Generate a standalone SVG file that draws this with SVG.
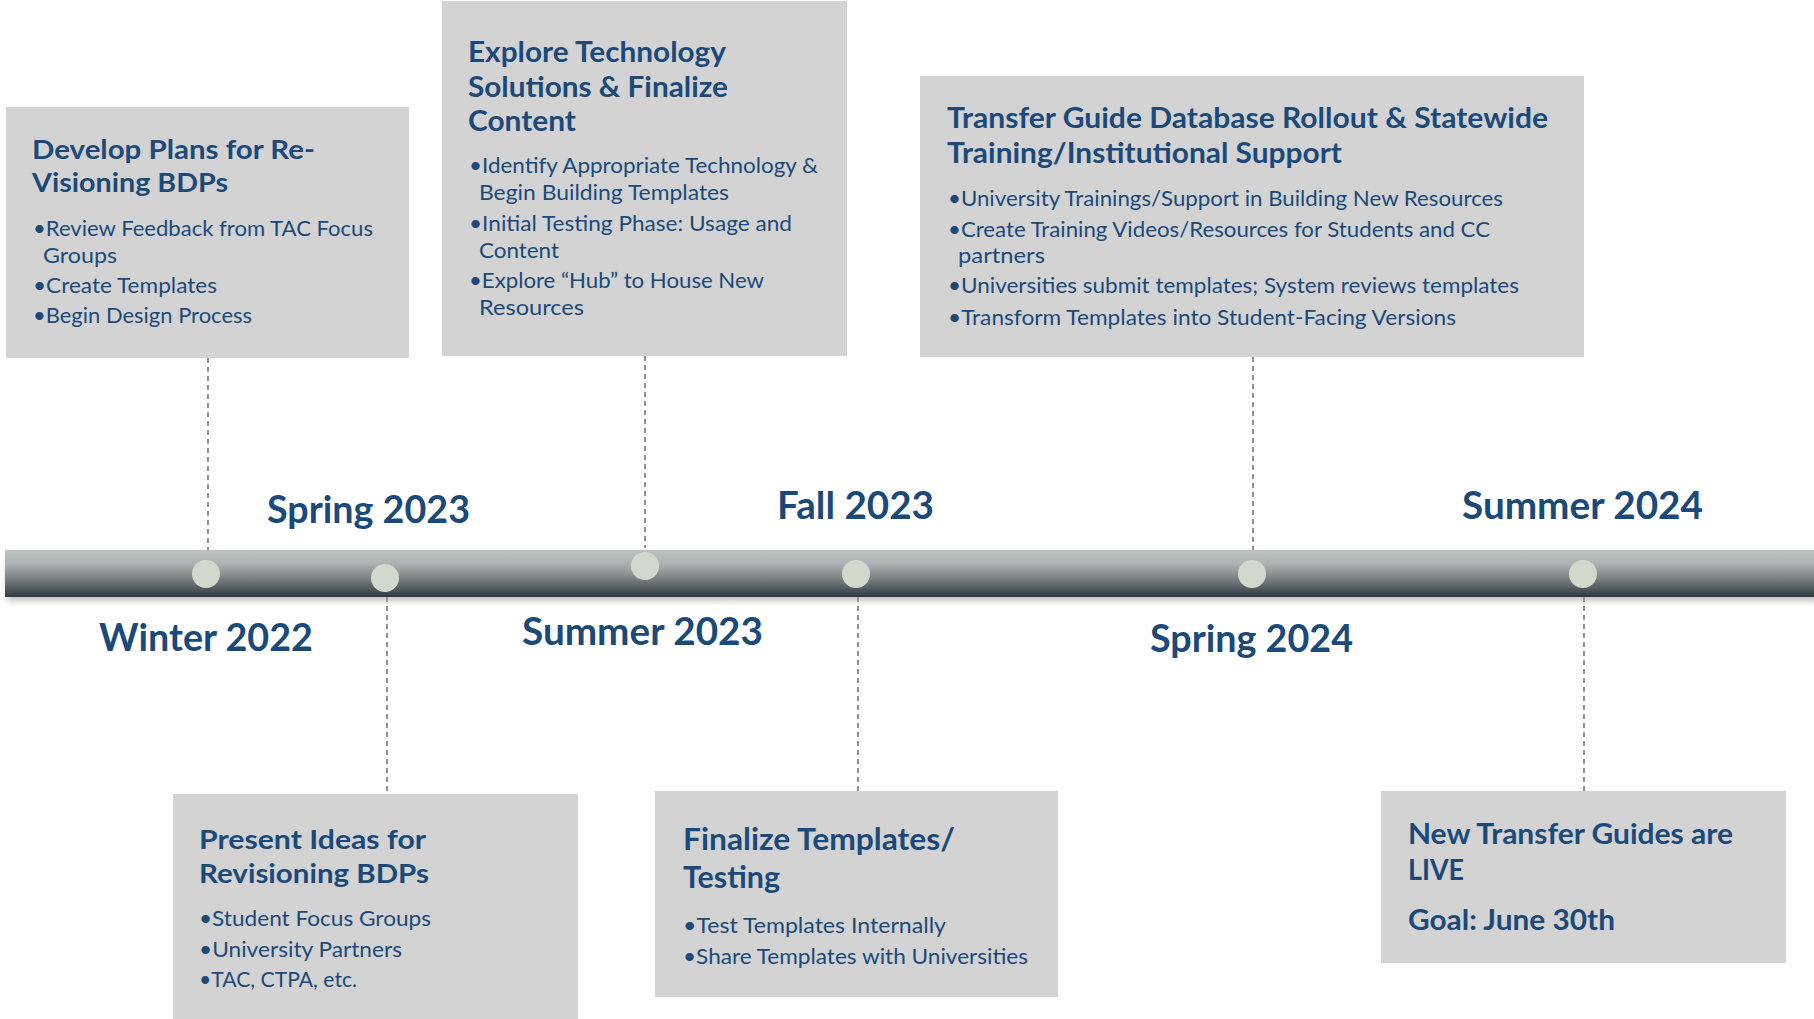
<svg xmlns="http://www.w3.org/2000/svg" width="1814" height="1019" viewBox="0 0 1814 1019">
<defs>
<linearGradient id="barGrad" x1="0" y1="0" x2="0" y2="1">
<stop offset="0" stop-color="#bcc2c1"/>
<stop offset="0.3" stop-color="#adb3b2"/>
<stop offset="0.65" stop-color="#737a7b"/>
<stop offset="1" stop-color="#2e3a41"/>
</linearGradient>
<filter id="shadow" x="-5%" y="-50%" width="110%" height="200%">
<feGaussianBlur stdDeviation="3"/>
</filter>
</defs>
<style>
.box{fill:#d3d3d3;}
.title{font-family:Lato,"Liberation Sans",sans-serif;font-weight:bold;fill:#1b4a7a;}
.body{font-family:Lato,"Liberation Sans",sans-serif;font-size:21px;fill:#1b4a7a;}
.season{font-family:Lato,"Liberation Sans",sans-serif;font-weight:bold;font-size:38px;fill:#1b4a7a;}
.dash{stroke:#4a4a4a;stroke-width:1.2;stroke-dasharray:5 4;fill:none;}
.dot{fill:#d1d9cd;}
</style>
<rect width="1814" height="1019" fill="#ffffff"/>

<g id="connectors">
<line class="dash" x1="208" y1="358" x2="208" y2="550"/>
<line class="dash" x1="645" y1="356" x2="645" y2="548"/>
<line class="dash" x1="1253" y1="357" x2="1253" y2="550"/>
<line class="dash" x1="387" y1="597" x2="387" y2="794"/>
<line class="dash" x1="858" y1="597" x2="858" y2="791"/>
<line class="dash" x1="1584" y1="597" x2="1584" y2="791"/>
</g>

<g id="timeline">
<rect x="7" y="556" width="1814" height="45" fill="#9a9a9a" opacity="0.6" filter="url(#shadow)"/>
<rect x="5" y="550" width="1809" height="47" fill="url(#barGrad)"/>
<circle class="dot" cx="206" cy="574" r="14"/>
<circle class="dot" cx="385" cy="578" r="14"/>
<circle class="dot" cx="645" cy="566" r="14"/>
<circle class="dot" cx="856" cy="574" r="14"/>
<circle class="dot" cx="1252" cy="574" r="14"/>
<circle class="dot" cx="1583" cy="574" r="14"/>
</g>

<g id="seasons">
<text class="season" x="267" y="523" textLength="203" lengthAdjust="spacingAndGlyphs">Spring 2023</text>
<text class="season" x="777" y="519" textLength="157" lengthAdjust="spacingAndGlyphs">Fall 2023</text>
<text class="season" x="1462" y="519" textLength="241" lengthAdjust="spacingAndGlyphs">Summer 2024</text>
<text class="season" x="99" y="651" textLength="214" lengthAdjust="spacingAndGlyphs">Winter 2022</text>
<text class="season" x="522" y="645" textLength="241" lengthAdjust="spacingAndGlyphs">Summer 2023</text>
<text class="season" x="1150" y="652" textLength="203" lengthAdjust="spacingAndGlyphs">Spring 2024</text>
</g>

<g id="box-develop">
<rect class="box" x="6" y="107" width="403" height="251"/>
<text class="title" font-size="27" x="32" y="159" textLength="283" lengthAdjust="spacingAndGlyphs">Develop Plans for Re-</text>
<text class="title" font-size="27" x="32" y="192" textLength="196" lengthAdjust="spacingAndGlyphs">Visioning BDPs</text>
<text class="body" x="33" y="236" textLength="340" lengthAdjust="spacingAndGlyphs">•Review Feedback from TAC Focus</text>
<text class="body" x="43" y="263" textLength="74" lengthAdjust="spacingAndGlyphs">Groups</text>
<text class="body" x="33" y="293" textLength="184" lengthAdjust="spacingAndGlyphs">•Create Templates</text>
<text class="body" x="33" y="323" textLength="219" lengthAdjust="spacingAndGlyphs">•Begin Design Process</text>
</g>

<g id="box-explore">
<rect class="box" x="442" y="1" width="405" height="355"/>
<text class="title" font-size="28" x="468" y="62" textLength="258" lengthAdjust="spacingAndGlyphs">Explore Technology</text>
<text class="title" font-size="28" x="468" y="97" textLength="260" lengthAdjust="spacingAndGlyphs">Solutions &amp; Finalize</text>
<text class="title" font-size="28" x="468" y="131" textLength="108" lengthAdjust="spacingAndGlyphs">Content</text>
<text class="body" x="469" y="173" textLength="349" lengthAdjust="spacingAndGlyphs">•Identify Appropriate Technology &amp;</text>
<text class="body" x="479" y="200" textLength="250" lengthAdjust="spacingAndGlyphs">Begin Building Templates</text>
<text class="body" x="469" y="231" textLength="323" lengthAdjust="spacingAndGlyphs">•Initial Testing Phase: Usage and</text>
<text class="body" x="479" y="258" textLength="80" lengthAdjust="spacingAndGlyphs">Content</text>
<text class="body" x="469" y="288" textLength="295" lengthAdjust="spacingAndGlyphs">•Explore “Hub” to House New</text>
<text class="body" x="479" y="315" textLength="105" lengthAdjust="spacingAndGlyphs">Resources</text>
</g>

<g id="box-transfer">
<rect class="box" x="920" y="76" width="664" height="281"/>
<text class="title" font-size="28" x="947" y="128" textLength="601" lengthAdjust="spacingAndGlyphs">Transfer Guide Database Rollout &amp; Statewide</text>
<text class="title" font-size="28" x="947" y="163" textLength="395" lengthAdjust="spacingAndGlyphs">Training/Institutional Support</text>
<text class="body" x="948" y="206" textLength="555" lengthAdjust="spacingAndGlyphs">•University Trainings/Support in Building New Resources</text>
<text class="body" x="948" y="237" textLength="542" lengthAdjust="spacingAndGlyphs">•Create Training Videos/Resources for Students and CC</text>
<text class="body" x="958" y="263" textLength="87" lengthAdjust="spacingAndGlyphs">partners</text>
<text class="body" x="948" y="293" textLength="571" lengthAdjust="spacingAndGlyphs">•Universities submit templates; System reviews templates</text>
<text class="body" x="948" y="325" textLength="508" lengthAdjust="spacingAndGlyphs">•Transform Templates into Student-Facing Versions</text>
</g>

<g id="box-present">
<rect class="box" x="173" y="794" width="405" height="225"/>
<text class="title" font-size="27" x="199" y="849" textLength="227" lengthAdjust="spacingAndGlyphs">Present Ideas for</text>
<text class="title" font-size="27" x="199" y="883" textLength="230" lengthAdjust="spacingAndGlyphs">Revisioning BDPs</text>
<text class="body" x="199" y="926" textLength="232" lengthAdjust="spacingAndGlyphs">•Student Focus Groups</text>
<text class="body" x="199" y="957" textLength="203" lengthAdjust="spacingAndGlyphs">•University Partners</text>
<text class="body" x="199" y="987" textLength="158" lengthAdjust="spacingAndGlyphs">•TAC, CTPA, etc.</text>
</g>

<g id="box-finalize">
<rect class="box" x="655" y="791" width="403" height="206"/>
<text class="title" font-size="30" x="683" y="850" textLength="272" lengthAdjust="spacingAndGlyphs">Finalize Templates/</text>
<text class="title" font-size="30" x="683" y="888" textLength="97" lengthAdjust="spacingAndGlyphs">Testing</text>
<text class="body" x="683" y="933" textLength="263" lengthAdjust="spacingAndGlyphs">•Test Templates Internally</text>
<text class="body" x="683" y="964" textLength="345" lengthAdjust="spacingAndGlyphs">•Share Templates with Universities</text>
</g>

<g id="box-live">
<rect class="box" x="1381" y="791" width="405" height="172"/>
<text class="title" font-size="28" x="1408" y="844" textLength="325" lengthAdjust="spacingAndGlyphs">New Transfer Guides are</text>
<text class="title" font-size="28" x="1408" y="880" textLength="56" lengthAdjust="spacingAndGlyphs">LIVE</text>
<text class="title" font-size="28" x="1408" y="930" textLength="207" lengthAdjust="spacingAndGlyphs">Goal: June 30th</text>
</g>
</svg>
